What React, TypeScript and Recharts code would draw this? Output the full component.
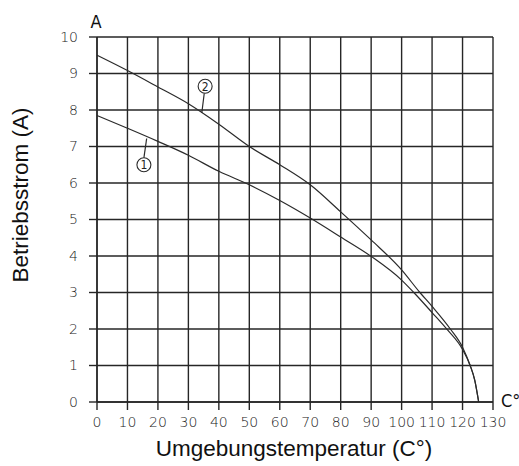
import { LineChart, Line, XAxis, YAxis, CartesianGrid, ReferenceDot, ReferenceLine, Label } from 'recharts';

// Kurve 1 (untere Kennlinie)
const curve1 = [
  { t: 0, a: 7.85 }, { t: 10, a: 7.5 }, { t: 20, a: 7.14 }, { t: 30, a: 6.76 },
  { t: 40, a: 6.32 }, { t: 50, a: 5.95 }, { t: 60, a: 5.52 }, { t: 70, a: 5.04 },
  { t: 80, a: 4.52 }, { t: 90, a: 3.99 }, { t: 100, a: 3.34 }, { t: 104, a: 3.0 },
  { t: 110, a: 2.45 }, { t: 115, a: 1.98 }, { t: 120, a: 1.44 }, { t: 122.5, a: 1.0 },
  { t: 124, a: 0.6 }, { t: 125.3, a: 0 },
];

// Kurve 2 (obere Kennlinie)
const curve2 = [
  { t: 0, a: 9.5 }, { t: 10, a: 9.08 }, { t: 20, a: 8.63 }, { t: 30, a: 8.17 },
  { t: 40, a: 7.61 }, { t: 50, a: 7.0 }, { t: 60, a: 6.5 }, { t: 70, a: 5.95 },
  { t: 80, a: 5.21 }, { t: 90, a: 4.44 }, { t: 100, a: 3.62 }, { t: 106, a: 3.0 },
  { t: 110, a: 2.62 }, { t: 116, a: 2.0 }, { t: 120, a: 1.5 }, { t: 122.5, a: 1.0 },
  { t: 124, a: 0.6 }, { t: 125.3, a: 0 },
];

const xTicks = [0, 10, 20, 30, 40, 50, 60, 70, 80, 90, 100, 110, 120, 130];
const yTicks = [0, 1, 2, 3, 4, 5, 6, 7, 8, 9, 10];

// Kreismarken mit Hinweislinien
const markers = [
  { id: '1', x: 15.4, y: 6.5, from: { x: 15.4, y: 6.69 }, to: { x: 16.3, y: 7.22 } },
  { id: '2', x: 35.5, y: 8.65, from: { x: 35.2, y: 8.46 }, to: { x: 34.4, y: 7.92 } },
];

const GRID = '#262626';
const LINE = '#2b2b2b';
const narrow = '"DejaVu Sans", sans-serif';
const sans = '"Liberation Sans", Arial, sans-serif';

export default function App() {
  return (
    <div style={{ position: 'absolute', left: 0, top: 0, background: '#fff' }}>
      <LineChart width={519} height={466} margin={{ top: 37, right: 26, left: 0, bottom: 0 }}>
        <CartesianGrid stroke={GRID} strokeWidth={1.4} />
        <XAxis
          type="number"
          dataKey="t"
          domain={[0, 130]}
          ticks={xTicks}
          interval={0}
          height={64}
          tickSize={8}
          tickMargin={7}
          axisLine={{ stroke: GRID, strokeWidth: 1.4 }}
          tickLine={{ stroke: GRID, strokeWidth: 1.4 }}
          tick={{ fill: '#222', fontSize: 14, fontFamily: narrow, fontStretch: 'condensed', fontWeight: 300 }}
        >
          <Label
            content={() => (
              <g>
                <text x={294} y={456} textAnchor="middle" fontSize={22.5} fontFamily={sans} fill="#111">
                  Umgebungstemperatur (C°)
                </text>
                <text x={501} y={407} fontSize={18} fontFamily={narrow} fontStretch="condensed" fill="#111">
                  C°
                </text>
              </g>
            )}
          />
        </XAxis>
        <YAxis
          type="number"
          domain={[0, 10]}
          ticks={yTicks}
          interval={0}
          width={97}
          tickSize={8}
          tickMargin={11}
          axisLine={{ stroke: GRID, strokeWidth: 1.4 }}
          tickLine={{ stroke: GRID, strokeWidth: 1.4 }}
          tick={{ fill: '#222', fontSize: 14, fontFamily: narrow, fontStretch: 'condensed', fontWeight: 300 }}
        >
          <Label
            content={() => (
              <g>
                <text
                  x={20}
                  y={195}
                  transform="rotate(-90 20 195)"
                  textAnchor="middle"
                  dominantBaseline="central"
                  fontSize={22.5}
                  fontFamily={sans}
                  fill="#111"
                >
                  Betriebsstrom (A)
                </text>
                <text x={96} y={28} textAnchor="middle" fontSize={18} fontFamily={narrow} fontStretch="condensed" fill="#111">
                  A
                </text>
              </g>
            )}
          />
        </YAxis>
        <Line data={curve1} dataKey="a" type="monotone" stroke={LINE} strokeWidth={1.2} dot={false} isAnimationActive={false} />
        <Line data={curve2} dataKey="a" type="monotone" stroke={LINE} strokeWidth={1.2} dot={false} isAnimationActive={false} />
        {markers.map((m) => (
          <ReferenceLine
            key={'l' + m.id}
            segment={[m.from, m.to]}
            stroke={LINE}
            strokeWidth={1.2}
          />
        ))}
        {markers.map((m) => (
          <ReferenceDot
            key={'d' + m.id}
            x={m.x}
            y={m.y}
            r={7}
            fill="#fff"
            stroke={LINE}
            strokeWidth={1.1}
          >
            <Label value={m.id} position="center" fontSize={12} fontFamily={narrow} fontStretch="condensed" fill="#222" />
          </ReferenceDot>
        ))}
      </LineChart>
    </div>
  );
}
